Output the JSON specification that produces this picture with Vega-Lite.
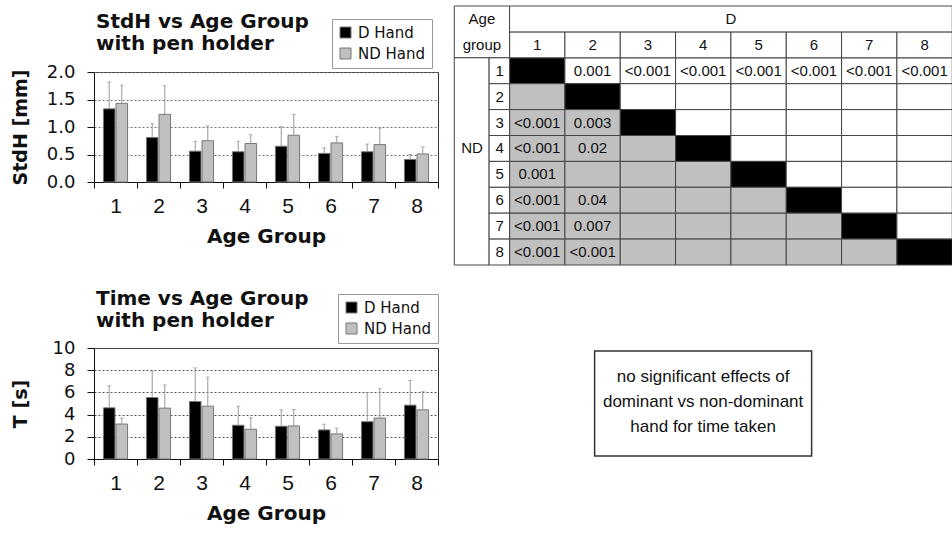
{
  "$schema": "https://vega.github.io/schema/vega-lite/v6.json",
  "padding": {"left": 10, "top": 5, "right": 0, "bottom": 0},
  "background": "white",
  "config": {
    "font": "Liberation Sans",
    "view": {"stroke": "#333"},
    "axis": {"labelColor": "#111", "titleColor": "#111", "domainColor": "#111", "tickColor": "#111"}
  },
  "datasets": {
    "stdh": [
      {"age": "1", "hand": "D Hand", "mean": 1.33, "upper": 1.82},
      {"age": "1", "hand": "ND Hand", "mean": 1.43, "upper": 1.76},
      {"age": "2", "hand": "D Hand", "mean": 0.81, "upper": 1.06},
      {"age": "2", "hand": "ND Hand", "mean": 1.23, "upper": 1.75},
      {"age": "3", "hand": "D Hand", "mean": 0.56, "upper": 0.74},
      {"age": "3", "hand": "ND Hand", "mean": 0.75, "upper": 1.02},
      {"age": "4", "hand": "D Hand", "mean": 0.55, "upper": 0.74},
      {"age": "4", "hand": "ND Hand", "mean": 0.70, "upper": 0.86},
      {"age": "5", "hand": "D Hand", "mean": 0.65, "upper": 1.01},
      {"age": "5", "hand": "ND Hand", "mean": 0.85, "upper": 1.23},
      {"age": "6", "hand": "D Hand", "mean": 0.52, "upper": 0.62},
      {"age": "6", "hand": "ND Hand", "mean": 0.71, "upper": 0.83},
      {"age": "7", "hand": "D Hand", "mean": 0.55, "upper": 0.69},
      {"age": "7", "hand": "ND Hand", "mean": 0.68, "upper": 0.98},
      {"age": "8", "hand": "D Hand", "mean": 0.41, "upper": 0.50},
      {"age": "8", "hand": "ND Hand", "mean": 0.51, "upper": 0.64}
    ],
    "time": [
      {"age": "1", "hand": "D Hand", "mean": 4.61, "upper": 6.60},
      {"age": "1", "hand": "ND Hand", "mean": 3.15, "upper": 3.69},
      {"age": "2", "hand": "D Hand", "mean": 5.54, "upper": 7.92},
      {"age": "2", "hand": "ND Hand", "mean": 4.58, "upper": 6.67},
      {"age": "3", "hand": "D Hand", "mean": 5.18, "upper": 8.21},
      {"age": "3", "hand": "ND Hand", "mean": 4.76, "upper": 7.38},
      {"age": "4", "hand": "D Hand", "mean": 3.04, "upper": 4.76},
      {"age": "4", "hand": "ND Hand", "mean": 2.68, "upper": 3.72},
      {"age": "5", "hand": "D Hand", "mean": 2.95, "upper": 4.43},
      {"age": "5", "hand": "ND Hand", "mean": 2.98, "upper": 4.46},
      {"age": "6", "hand": "D Hand", "mean": 2.62, "upper": 3.13},
      {"age": "6", "hand": "ND Hand", "mean": 2.26, "upper": 2.77},
      {"age": "7", "hand": "D Hand", "mean": 3.36, "upper": 5.98},
      {"age": "7", "hand": "ND Hand", "mean": 3.69, "upper": 6.34},
      {"age": "8", "hand": "D Hand", "mean": 4.85, "upper": 7.08},
      {"age": "8", "hand": "ND Hand", "mean": 4.43, "upper": 6.07}
    ],
    "cells": [
      {"row": "1", "col": "1", "kind": "diag"}, {"row": "1", "col": "2", "kind": "upper"}, {"row": "1", "col": "3", "kind": "upper"}, {"row": "1", "col": "4", "kind": "upper"}, {"row": "1", "col": "5", "kind": "upper"}, {"row": "1", "col": "6", "kind": "upper"}, {"row": "1", "col": "7", "kind": "upper"}, {"row": "1", "col": "8", "kind": "upper"},
      {"row": "2", "col": "1", "kind": "lower"}, {"row": "2", "col": "2", "kind": "diag"}, {"row": "2", "col": "3", "kind": "upper"}, {"row": "2", "col": "4", "kind": "upper"}, {"row": "2", "col": "5", "kind": "upper"}, {"row": "2", "col": "6", "kind": "upper"}, {"row": "2", "col": "7", "kind": "upper"}, {"row": "2", "col": "8", "kind": "upper"},
      {"row": "3", "col": "1", "kind": "lower"}, {"row": "3", "col": "2", "kind": "lower"}, {"row": "3", "col": "3", "kind": "diag"}, {"row": "3", "col": "4", "kind": "upper"}, {"row": "3", "col": "5", "kind": "upper"}, {"row": "3", "col": "6", "kind": "upper"}, {"row": "3", "col": "7", "kind": "upper"}, {"row": "3", "col": "8", "kind": "upper"},
      {"row": "4", "col": "1", "kind": "lower"}, {"row": "4", "col": "2", "kind": "lower"}, {"row": "4", "col": "3", "kind": "lower"}, {"row": "4", "col": "4", "kind": "diag"}, {"row": "4", "col": "5", "kind": "upper"}, {"row": "4", "col": "6", "kind": "upper"}, {"row": "4", "col": "7", "kind": "upper"}, {"row": "4", "col": "8", "kind": "upper"},
      {"row": "5", "col": "1", "kind": "lower"}, {"row": "5", "col": "2", "kind": "lower"}, {"row": "5", "col": "3", "kind": "lower"}, {"row": "5", "col": "4", "kind": "lower"}, {"row": "5", "col": "5", "kind": "diag"}, {"row": "5", "col": "6", "kind": "upper"}, {"row": "5", "col": "7", "kind": "upper"}, {"row": "5", "col": "8", "kind": "upper"},
      {"row": "6", "col": "1", "kind": "lower"}, {"row": "6", "col": "2", "kind": "lower"}, {"row": "6", "col": "3", "kind": "lower"}, {"row": "6", "col": "4", "kind": "lower"}, {"row": "6", "col": "5", "kind": "lower"}, {"row": "6", "col": "6", "kind": "diag"}, {"row": "6", "col": "7", "kind": "upper"}, {"row": "6", "col": "8", "kind": "upper"},
      {"row": "7", "col": "1", "kind": "lower"}, {"row": "7", "col": "2", "kind": "lower"}, {"row": "7", "col": "3", "kind": "lower"}, {"row": "7", "col": "4", "kind": "lower"}, {"row": "7", "col": "5", "kind": "lower"}, {"row": "7", "col": "6", "kind": "lower"}, {"row": "7", "col": "7", "kind": "diag"}, {"row": "7", "col": "8", "kind": "upper"},
      {"row": "8", "col": "1", "kind": "lower"}, {"row": "8", "col": "2", "kind": "lower"}, {"row": "8", "col": "3", "kind": "lower"}, {"row": "8", "col": "4", "kind": "lower"}, {"row": "8", "col": "5", "kind": "lower"}, {"row": "8", "col": "6", "kind": "lower"}, {"row": "8", "col": "7", "kind": "lower"}, {"row": "8", "col": "8", "kind": "diag"}
    ],
    "pvals": [
      {"row": "1", "col": "2", "p": "0.001"}, {"row": "1", "col": "3", "p": "<0.001"}, {"row": "1", "col": "4", "p": "<0.001"}, {"row": "1", "col": "5", "p": "<0.001"}, {"row": "1", "col": "6", "p": "<0.001"}, {"row": "1", "col": "7", "p": "<0.001"}, {"row": "1", "col": "8", "p": "<0.001"},
      {"row": "3", "col": "1", "p": "<0.001"}, {"row": "3", "col": "2", "p": "0.003"},
      {"row": "4", "col": "1", "p": "<0.001"}, {"row": "4", "col": "2", "p": "0.02"},
      {"row": "5", "col": "1", "p": "0.001"},
      {"row": "6", "col": "1", "p": "<0.001"}, {"row": "6", "col": "2", "p": "0.04"},
      {"row": "7", "col": "1", "p": "<0.001"}, {"row": "7", "col": "2", "p": "0.007"},
      {"row": "8", "col": "1", "p": "<0.001"}, {"row": "8", "col": "2", "p": "<0.001"}
    ],
    "hdr": [
      {"row": "hdr", "col": "1", "label": "1"}, {"row": "hdr", "col": "2", "label": "2"}, {"row": "hdr", "col": "3", "label": "3"}, {"row": "hdr", "col": "4", "label": "4"},
      {"row": "hdr", "col": "5", "label": "5"}, {"row": "hdr", "col": "6", "label": "6"}, {"row": "hdr", "col": "7", "label": "7"}, {"row": "hdr", "col": "8", "label": "8"}
    ],
    "rownums": [
      {"row": "1", "col": "h", "label": "1"}, {"row": "2", "col": "h", "label": "2"}, {"row": "3", "col": "h", "label": "3"}, {"row": "4", "col": "h", "label": "4"},
      {"row": "5", "col": "h", "label": "5"}, {"row": "6", "col": "h", "label": "6"}, {"row": "7", "col": "h", "label": "7"}, {"row": "8", "col": "h", "label": "8"}
    ],
    "agecell": [{"col": "h", "row": "top", "row2": "hdr"}],
    "agetext": [{"col": "h", "row": "top", "label": "Age"}, {"col": "h", "row": "hdr", "label": "group"}],
    "dcell": [{"col": "1", "col2": "8", "row": "top", "label": "D"}],
    "dtext": [{"col": "4", "row": "top", "label": "D"}],
    "ndcell": [{"col": "h", "row": "1", "row2": "8", "label": "ND"}],
    "ndtext": [{"col": "h", "row": "4", "label": "ND"}],
    "note": [{"note": "no significant effects of\ndominant vs non-dominant\nhand for time taken"}]
  },
  "resolve": {"scale": {"color": "independent"}, "legend": {"color": "independent"}},
  "hconcat": [
    {
      "resolve": {"scale": {"color": "independent"}, "legend": {"color": "independent"}},
      "vconcat": [
        {
          "width": 344, "height": 110,
          "title": {"text": ["StdH vs Age Group", "with pen holder"], "anchor": "start", "frame": "group", "fontSize": 20, "fontWeight": "bold", "lineHeight": 22, "offset": -35, "dx": 2, "color": "#111", "font": "DejaVu Sans"},
          "data": {"name": "stdh"},
          "encoding": {
            "x": {"field": "age", "type": "ordinal", "scale": {"paddingInner": 0, "paddingOuter": 0},
                  "axis": {"tickBand": "extent", "labelAngle": 0, "labelFont": "Liberation Sans", "labelFontSize": 21, "labelPadding": 7, "tickSize": 6, "title": "Age Group", "titleFont": "DejaVu Sans", "titleFontSize": 20, "titleFontWeight": "bold", "titlePadding": 10, "grid": false}},
            "xOffset": {"field": "hand", "type": "nominal", "scale": {"paddingInner": 0.08, "paddingOuter": 0.75}}
          },
          "layer": [
            {
              "mark": {"type": "bar", "stroke": "#777", "strokeWidth": 1},
              "encoding": {
                "y": {"field": "mean", "type": "quantitative", "scale": {"domain": [0, 2]},
                      "axis": {"values": [0, 0.5, 1, 1.5, 2], "format": ".1f", "labelOverlap": false, "grid": true, "gridDash": [2, 2], "gridColor": "#777", "tickSize": 7, "labelFont": "DejaVu Sans", "labelFontSize": 18, "labelPadding": 12, "title": "StdH [mm]", "titleFont": "DejaVu Sans", "titleFontSize": 19, "titleFontWeight": "bold", "titlePadding": 15, "minExtent": 49, "maxExtent": 49}},
                "color": {"field": "hand", "type": "nominal", "scale": {"domain": ["D Hand", "ND Hand"], "range": ["#000000", "#c0c0c0"]},
                          "legend": {"title": null, "orient": "none", "legendX": 238, "legendY": -53, "strokeColor": "#999", "fillColor": "#fff", "padding": 6, "symbolType": "square", "symbolSize": 121, "symbolStrokeColor": "#777", "symbolStrokeWidth": 1, "symbolOpacity": 1, "labelFont": "DejaVu Sans", "labelFontSize": 15, "labelColor": "#111", "labelOffset": 5, "rowPadding": 5}}
              }
            },
            {
              "mark": {"type": "rule", "color": "#999", "strokeWidth": 1},
              "encoding": {
                "y": {"field": "mean", "type": "quantitative",
                      "axis": {"values": [0, 0.5, 1, 1.5, 2], "format": ".1f", "labelOverlap": false, "grid": true, "gridDash": [2, 2], "gridColor": "#777", "tickSize": 7, "labelFont": "DejaVu Sans", "labelFontSize": 18, "labelPadding": 12, "title": "StdH [mm]", "titleFont": "DejaVu Sans", "titleFontSize": 19, "titleFontWeight": "bold", "titlePadding": 15, "minExtent": 49, "maxExtent": 49}},
                "y2": {"field": "upper"}
              }
            },
            {
              "mark": {"type": "tick", "color": "#999", "size": 4, "thickness": 1, "orient": "horizontal"},
              "encoding": {
                "y": {"field": "upper", "type": "quantitative",
                      "axis": {"values": [0, 0.5, 1, 1.5, 2], "format": ".1f", "labelOverlap": false, "grid": true, "gridDash": [2, 2], "gridColor": "#777", "tickSize": 7, "labelFont": "DejaVu Sans", "labelFontSize": 18, "labelPadding": 12, "title": "StdH [mm]", "titleFont": "DejaVu Sans", "titleFontSize": 19, "titleFontWeight": "bold", "titlePadding": 15, "minExtent": 49, "maxExtent": 49}}
              }
            }
          ]
        },
        {
          "width": 344, "height": 111,
          "title": {"text": ["Time vs Age Group", "with pen holder"], "anchor": "start", "frame": "group", "fontSize": 20, "fontWeight": "bold", "lineHeight": 22, "offset": -37, "dx": 2, "color": "#111", "font": "DejaVu Sans"},
          "data": {"name": "time"},
          "encoding": {
            "x": {"field": "age", "type": "ordinal", "scale": {"paddingInner": 0, "paddingOuter": 0},
                  "axis": {"tickBand": "extent", "labelAngle": 0, "labelFont": "Liberation Sans", "labelFontSize": 21, "labelPadding": 7, "tickSize": 6, "title": "Age Group", "titleFont": "DejaVu Sans", "titleFontSize": 20, "titleFontWeight": "bold", "titlePadding": 10, "grid": false}},
            "xOffset": {"field": "hand", "type": "nominal", "scale": {"paddingInner": 0.08, "paddingOuter": 0.75}}
          },
          "layer": [
            {
              "mark": {"type": "bar", "stroke": "#777", "strokeWidth": 1},
              "encoding": {
                "y": {"field": "mean", "type": "quantitative", "scale": {"domain": [0, 10]},
                      "axis": {"values": [0, 2, 4, 6, 8, 10], "format": "d", "labelOverlap": false, "grid": true, "gridDash": [2, 2], "gridColor": "#555", "tickSize": 7, "labelFont": "DejaVu Sans", "labelFontSize": 18, "labelPadding": 12, "title": "T [s]", "titleFont": "DejaVu Sans", "titleFontSize": 19, "titleFontWeight": "bold", "titlePadding": 15, "minExtent": 49, "maxExtent": 49}},
                "color": {"field": "hand", "type": "nominal", "scale": {"domain": ["D Hand", "ND Hand"], "range": ["#000000", "#c0c0c0"]},
                          "legend": {"title": null, "orient": "none", "legendX": 244, "legendY": -54, "strokeColor": "#999", "fillColor": "#fff", "padding": 6, "symbolType": "square", "symbolSize": 121, "symbolStrokeColor": "#777", "symbolStrokeWidth": 1, "symbolOpacity": 1, "labelFont": "DejaVu Sans", "labelFontSize": 15, "labelColor": "#111", "labelOffset": 5, "rowPadding": 5}}
              }
            },
            {
              "mark": {"type": "rule", "color": "#999", "strokeWidth": 1},
              "encoding": {
                "y": {"field": "mean", "type": "quantitative",
                      "axis": {"values": [0, 2, 4, 6, 8, 10], "format": "d", "labelOverlap": false, "grid": true, "gridDash": [2, 2], "gridColor": "#555", "tickSize": 7, "labelFont": "DejaVu Sans", "labelFontSize": 18, "labelPadding": 12, "title": "T [s]", "titleFont": "DejaVu Sans", "titleFontSize": 19, "titleFontWeight": "bold", "titlePadding": 15, "minExtent": 49, "maxExtent": 49}},
                "y2": {"field": "upper"}
              }
            },
            {
              "mark": {"type": "tick", "color": "#999", "size": 4, "thickness": 1, "orient": "horizontal"},
              "encoding": {
                "y": {"field": "upper", "type": "quantitative",
                      "axis": {"values": [0, 2, 4, 6, 8, 10], "format": "d", "labelOverlap": false, "grid": true, "gridDash": [2, 2], "gridColor": "#555", "tickSize": 7, "labelFont": "DejaVu Sans", "labelFontSize": 18, "labelPadding": 12, "title": "T [s]", "titleFont": "DejaVu Sans", "titleFontSize": 19, "titleFontWeight": "bold", "titlePadding": 15, "minExtent": 49, "maxExtent": 49}}
              }
            }
          ]
        }
      ],
      "spacing": 41
    },
    {
      "resolve": {"scale": {"color": "independent"}, "legend": {"color": "independent"}},
      "vconcat": [
        {
          "width": 498, "height": 193,
          "view": {"stroke": null},
          "layer": [
            {
              "data": {"name": "cells"},
              "mark": {"type": "rect", "stroke": "#444", "strokeWidth": 1},
              "encoding": {
                "x": {"field": "col", "type": "ordinal", "scale": {"domain": ["h", "1", "2", "3", "4", "5", "6", "7", "8"], "paddingInner": 0, "paddingOuter": 0}, "axis": null},
                "y": {"field": "row", "type": "ordinal", "scale": {"domain": ["top", "hdr", "1", "2", "3", "4", "5", "6", "7", "8"], "range": [-66, 193], "paddingInner": 0, "paddingOuter": 0}, "axis": null},
                "color": {"field": "kind", "type": "nominal", "scale": {"domain": ["diag", "lower", "upper"], "range": ["#000000", "#c0c0c0", "#ffffff"]}, "legend": null}
              }
            },
            {
              "data": {"name": "pvals"},
              "mark": {"type": "text", "fontSize": 15, "align": "center", "baseline": "middle", "color": "#111"},
              "encoding": {"x": {"field": "col", "type": "ordinal"}, "y": {"field": "row", "type": "ordinal"}, "text": {"field": "p"}}
            },
            {
              "data": {"name": "hdr"},
              "mark": {"type": "rect", "fill": "#fff", "stroke": "#444", "strokeWidth": 1},
              "encoding": {"x": {"field": "col", "type": "ordinal"}, "y": {"field": "row", "type": "ordinal"}}
            },
            {
              "data": {"name": "hdr"},
              "mark": {"type": "text", "fontSize": 15, "align": "center", "baseline": "middle", "color": "#111"},
              "encoding": {"x": {"field": "col", "type": "ordinal"}, "y": {"field": "row", "type": "ordinal"}, "text": {"field": "label"}}
            },
            {
              "data": {"name": "agecell"},
              "mark": {"type": "rect", "fill": "#fff", "stroke": "#444", "strokeWidth": 1},
              "encoding": {"x": {"field": "col", "type": "ordinal"}, "y": {"field": "row", "type": "ordinal", "bandPosition": 0}, "y2": {"field": "row2", "bandPosition": 1}}
            },
            {
              "data": {"name": "dcell"},
              "mark": {"type": "rect", "fill": "#fff", "stroke": "#444", "strokeWidth": 1},
              "encoding": {"x": {"field": "col", "type": "ordinal", "bandPosition": 0}, "x2": {"field": "col2", "bandPosition": 1}, "y": {"field": "row", "type": "ordinal"}}
            },
            {
              "data": {"name": "ndcell"},
              "mark": {"type": "rect", "fill": "#fff", "stroke": "#444", "strokeWidth": 1},
              "encoding": {"x": {"field": "col", "type": "ordinal", "bandPosition": 0}, "x2": {"field": "col", "bandPosition": 0.63}, "y": {"field": "row", "type": "ordinal", "bandPosition": 0}, "y2": {"field": "row2", "bandPosition": 1}}
            },
            {
              "data": {"name": "rownums"},
              "mark": {"type": "rect", "fill": "#fff", "stroke": "#444", "strokeWidth": 1},
              "encoding": {"x": {"field": "col", "type": "ordinal", "bandPosition": 0.63}, "x2": {"field": "col", "bandPosition": 1}, "y": {"field": "row", "type": "ordinal"}}
            },
            {
              "data": {"name": "rownums"},
              "mark": {"type": "text", "fontSize": 15, "align": "center", "baseline": "middle", "color": "#111"},
              "encoding": {"x": {"field": "col", "type": "ordinal", "bandPosition": 0.82}, "y": {"field": "row", "type": "ordinal"}, "text": {"field": "label"}}
            },
            {
              "data": {"name": "agetext"},
              "mark": {"type": "text", "fontSize": 15, "align": "center", "baseline": "middle", "color": "#111"},
              "encoding": {"x": {"field": "col", "type": "ordinal"}, "y": {"field": "row", "type": "ordinal"}, "text": {"field": "label"}}
            },
            {
              "data": {"name": "dtext"},
              "mark": {"type": "text", "fontSize": 15, "align": "center", "baseline": "middle", "color": "#111"},
              "encoding": {"x": {"field": "col", "type": "ordinal", "bandPosition": 1}, "y": {"field": "row", "type": "ordinal"}, "text": {"field": "label"}}
            },
            {
              "data": {"name": "ndtext"},
              "mark": {"type": "text", "fontSize": 15, "align": "center", "baseline": "middle", "color": "#111"},
              "encoding": {"x": {"field": "col", "type": "ordinal", "bandPosition": 0.32}, "y": {"field": "row", "type": "ordinal"}, "text": {"field": "label"}}
            }
          ]
        },
        {
          "width": 217, "height": 105,
          "view": {"stroke": "#333", "strokeWidth": 1.5},
          "data": {"name": "note"},
          "mark": {"type": "text", "fontSize": 17, "lineBreak": "\n", "lineHeight": 25, "align": "center", "baseline": "middle", "dy": -27, "color": "#111"},
          "encoding": {"text": {"field": "note"}}
        }
      ],
      "spacing": 84,
      "center": true
    }
  ],
  "spacing": 14
}
